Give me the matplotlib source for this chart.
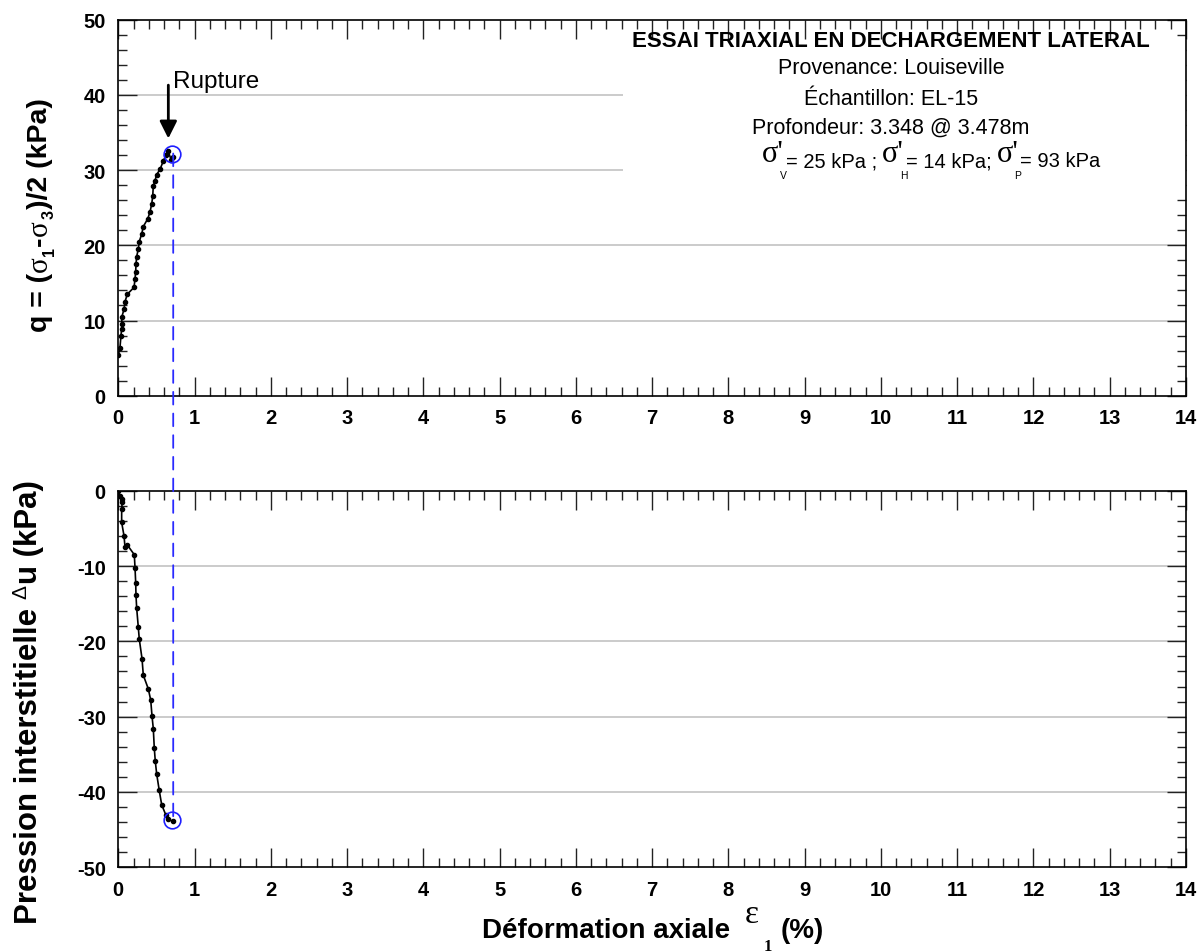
import matplotlib
matplotlib.use("Agg")
import matplotlib.pyplot as plt
from matplotlib.ticker import MultipleLocator
from matplotlib.patches import ConnectionPatch, Rectangle

SANS = "Liberation Sans"
SERIF = "Liberation Serif"
plt.rcParams["font.family"] = [SANS, "DejaVu Sans"]
plt.rcParams["axes.unicode_minus"] = False

# ---- data ----
eps_q = [0.0, 0.022, 0.035, 0.044, 0.048, 0.044, 0.075, 0.088, 0.118, 0.206, 0.219,
         0.228, 0.232, 0.241, 0.262, 0.275, 0.307, 0.328, 0.385, 0.415, 0.438, 0.451,
         0.459, 0.481, 0.503, 0.547, 0.590, 0.625, 0.655, 0.695, 0.715]
q_vals = [5.4, 6.4, 8.0, 8.9, 9.5, 10.4, 11.5, 12.5, 13.5, 14.4, 15.5, 16.5, 17.5, 18.5,
          19.5, 20.5, 21.5, 22.5, 23.5, 24.4, 25.5, 26.5, 27.9, 28.6, 29.4, 30.1, 31.2,
          32.0, 32.5, 31.3, 31.7]

eps_u = [0.0, 0.022, 0.044, 0.052, 0.044, 0.044, 0.075, 0.088, 0.118, 0.21, 0.219, 0.228,
         0.232, 0.241, 0.262, 0.275, 0.311, 0.328, 0.393, 0.425, 0.442, 0.459, 0.472,
         0.485, 0.503, 0.537, 0.569, 0.625, 0.655, 0.713]
du_vals = [0.0, -0.7, -1.1, -1.5, -2.4, -4.2, -6.0, -7.5, -7.2, -8.5, -10.2, -12.2, -13.9,
           -15.6, -18.1, -19.7, -22.3, -24.5, -26.3, -27.8, -29.9, -31.6, -34.2, -35.9,
           -37.6, -39.8, -41.7, -43.1, -43.6, -43.9]

rupture_eps = 0.72
rupture_q = 32.2
rupture_u = -43.7
rupture_circle_q = (0.70, 32.2)
rupture_circle_u = (0.71, -43.7)

title_lines = ["ESSAI TRIAXIAL EN DECHARGEMENT LATERAL",
               "Provenance: Louiseville",
               "Échantillon: EL-15",
               "Profondeur: 3.348 @ 3.478m"]
stress_vals = [("V", "= 25 kPa ;"), ("H", "= 14 kPa;"), ("P", "= 93 kPa")]

xticks = list(range(0, 15))
q_ticks = [0, 10, 20, 30, 40, 50]
u_ticks = [0, -10, -20, -30, -40, -50]

W, H = 1201, 953
fig = plt.figure(figsize=(W / 100, H / 100), dpi=100)

ax1 = fig.add_axes([118.3 / W, 1 - 396.7 / H, (1186 - 118.3) / W, (396.7 - 20.7) / H])
ax2 = fig.add_axes([118.3 / W, 1 - 868.3 / H, (1186 - 118.3) / W, (868.3 - 491.7) / H])

TICKFS = 14.5


def style(ax, ylim, yticks):
    ax.set_xlim(0, 14)
    ax.set_ylim(*ylim)
    ax.set_xticks(xticks)
    ax.set_yticks(yticks)
    ax.xaxis.set_minor_locator(MultipleLocator(0.2))
    ax.yaxis.set_minor_locator(MultipleLocator(2))
    ax.tick_params(which="both", direction="in", top=True, right=True, color="#222222",
                   width=1.0, labelsize=TICKFS, pad=9)
    ax.tick_params(which="major", length=13.5)
    ax.tick_params(which="minor", length=6.5)
    for lab in ax.get_xticklabels() + ax.get_yticklabels():
        lab.set_fontweight("bold")
        lab.set_family(SANS)
    for sp in ax.spines.values():
        sp.set_linewidth(1.2)
        sp.set_zorder(10)
    for t in yticks:
        if t not in (ylim[0], ylim[1]):
            ax.axhline(t, color="#bdbdbd", lw=1.1, zorder=1)


style(ax1, (0, 50), q_ticks)
style(ax2, (-50, 0), u_ticks)

# white box behind the info text
ax1.add_patch(Rectangle((6.62, 27.6), 7.38, 18.5, facecolor="white", edgecolor="none",
                        zorder=2))

ax1.plot(eps_q, q_vals, color="black", lw=1.2, marker="o", ms=3, zorder=5)
ax2.plot(eps_u, du_vals, color="black", lw=1.2, marker="o", ms=3, zorder=5)

ax1.plot(*rupture_circle_q, marker="o", ms=12, mfc="none", mec="#1f1fff", mew=1.2, zorder=6)
ax2.plot(*rupture_circle_u, marker="o", ms=12, mfc="none", mec="#1f1fff", mew=1.2, zorder=6)

con = ConnectionPatch(xyA=(rupture_eps, rupture_q), coordsA=ax1.transData,
                      xyB=(rupture_eps, rupture_u), coordsB=ax2.transData,
                      color="#2a2aff", lw=1.3, linestyle=(0, (7, 5)), zorder=7)
fig.add_artist(con)

ax1.annotate("", xy=(0.656, 34.2), xytext=(0.656, 41.3),
             arrowprops=dict(arrowstyle="-|>", color="black", lw=2, mutation_scale=26,
                             shrinkA=0, shrinkB=0), zorder=8)
ax1.text(0.72, 41.0, "Rupture", fontsize=17.5, ha="left", va="baseline", family=SANS,
         zorder=8)

renderer = fig.canvas.get_renderer()


def rich(x_px, y_px, pieces, rotation=0, align="left"):
    widths = []
    for p in pieces:
        if "adv" in p:
            widths.append(p["adv"])
            continue
        t = fig.text(0, 0, p["s"], fontsize=p["size"], fontweight=p.get("weight", "normal"),
                     family=p.get("family", SANS))
        widths.append(t.get_window_extent(renderer).width)
        t.remove()
    total = sum(w + p.get("gap", 0) for w, p in zip(widths, pieces))
    cur = -total / 2 if align == "center" else 0
    for w, p in zip(widths, pieces):
        rise = p.get("rise", 0)
        if rotation == 0:
            px, py = x_px + cur, y_px - rise
        else:
            px, py = x_px - rise, y_px - cur
        fig.text(px / W, 1 - py / H, p["s"], fontsize=p["size"],
                 fontweight=p.get("weight", "normal"), family=p.get("family", SANS),
                 ha="left", va="baseline", rotation=rotation, rotation_mode="anchor",
                 zorder=9)
        cur += w + p.get("gap", 0)


# info block
cx = 891
fig.text(cx / W, 1 - 47 / H, title_lines[0], fontsize=16, fontweight="bold", ha="center",
         va="baseline", family=SANS, zorder=9)
for line, yb in zip(title_lines[1:], [74, 105, 134]):
    fig.text(cx / W, 1 - yb / H, line, fontsize=15.5, ha="center", va="baseline",
             family=SANS, zorder=9)

pieces = []
for i, (sub, val) in enumerate(stress_vals):
    pieces.append(dict(s="σ'", size=22, family=SERIF, rise=5, gap=-4))
    pieces.append(dict(s=sub, size=7.5, rise=-12, adv=6))
    pieces.append(dict(s=val, size=14.5, gap=5 if i < 2 else 0))
rich(762, 167, pieces)

# y label top
rich(47, 215, [
    dict(s="q = (", size=20.5, weight="bold"),
    dict(s="σ", size=21, family=SERIF, gap=1),
    dict(s="1", size=11.5, weight="bold", rise=-7, gap=1),
    dict(s="-", size=20.5, weight="bold"),
    dict(s="σ", size=21, family=SERIF, gap=1),
    dict(s="3", size=11.5, weight="bold", rise=-7, gap=1),
    dict(s=")/2 (kPa)", size=20.5, weight="bold"),
], rotation=90, align="center")

# y label bottom
rich(37, 702, [
    dict(s="Pression interstitielle", size=22.5, weight="bold", gap=9),
    dict(s="Δ", size=15, rise=11, gap=1),
    dict(s="u (kPa)", size=22.5, weight="bold"),
], rotation=90, align="center")

# x label
rich(482, 938, [
    dict(s="Déformation axiale", size=20, weight="bold", gap=15),
    dict(s="ε", size=24, family=SERIF, rise=15, gap=4),
    dict(s="1", size=12, family=SERIF, weight="bold", rise=-13, gap=9),
    dict(s="(%)", size=20, weight="bold"),
])

fig.savefig("out.png", dpi=100)
